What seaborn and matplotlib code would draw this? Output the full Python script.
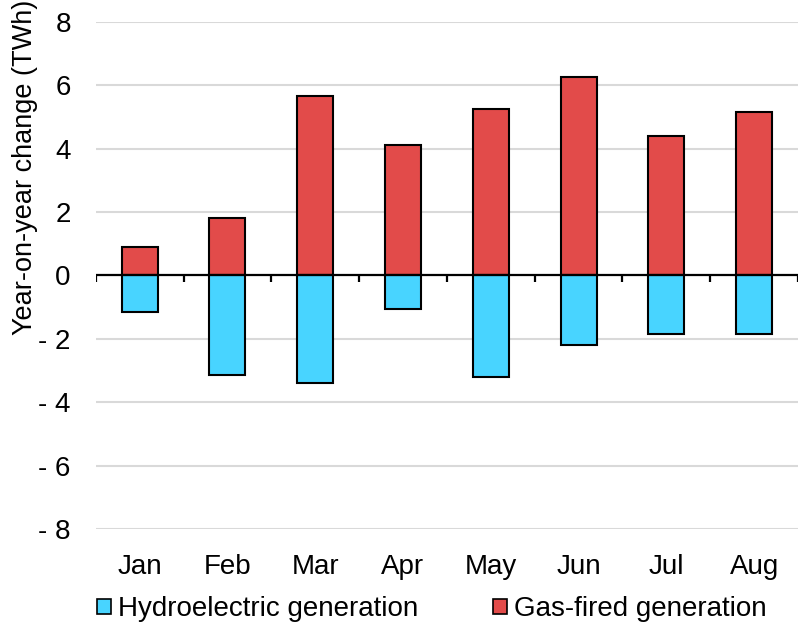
import matplotlib
matplotlib.use("Agg")
import matplotlib.pyplot as plt
from matplotlib.patches import Patch
import numpy as np
import pandas as pd
import seaborn as sns

months = ["Jan", "Feb", "Mar", "Apr", "May", "Jun", "Jul", "Aug"]
hydro = [-1.15, -3.15, -3.4, -1.05, -3.2, -2.2, -1.85, -1.85]
gas = [0.9, 1.8, 5.65, 4.1, 5.25, 6.25, 4.4, 5.15]
yticks = [-8, -6, -4, -2, 0, 2, 4, 6, 8]

HYDRO_COLOR = "#48d4ff"
GAS_COLOR = "#e24b4a"

sns.set_style("white")
plt.rcParams["font.family"] = ["Liberation Sans", "DejaVu Sans"]
plt.rcParams["text.color"] = "black"
plt.rcParams["axes.labelcolor"] = "black"
plt.rcParams["xtick.color"] = "black"
plt.rcParams["ytick.color"] = "black"

df = pd.DataFrame({"month": months, "hydro": hydro, "gas": gas})

fig = plt.figure(figsize=(7.98, 6.23), dpi=100)
ax = fig.add_axes([0.12, 0.151, 0.88, 0.814])

sns.barplot(data=df, x="month", y="gas", color=GAS_COLOR, width=0.41,
            edgecolor="black", linewidth=1.5, saturation=1, ax=ax, zorder=3)
sns.barplot(data=df, x="month", y="hydro", color=HYDRO_COLOR, width=0.41,
            edgecolor="black", linewidth=1.5, saturation=1, ax=ax, zorder=3)

ax.set_xlim(-0.5, len(months) - 0.5)
ax.set_ylim(-8, 8)
ax.set_yticks(yticks)
ax.set_yticklabels([f"- {abs(v)}" if v < 0 else str(v) for v in yticks])
ax.grid(axis="y", color="#d9d9d9", linewidth=1.5, zorder=0)
ax.grid(axis="x", visible=False)
for s in ax.spines.values():
    s.set_visible(False)

# zero line with category separator ticks
ax.axhline(0, color="black", linewidth=1.6, zorder=4)
ax.vlines(np.arange(-0.5, len(months)), -0.22, 0, color="black",
          linewidth=1.6, zorder=4)

ax.tick_params(axis="both", length=0, labelsize=20)
ax.tick_params(axis="x", pad=18)
ax.tick_params(axis="y", pad=18)
ax.set_xlabel("")
ax.set_ylabel("Year-on-year change (TWh)", fontsize=19.5, labelpad=0)
ax.yaxis.set_label_coords(-0.082, 0.712)

handles = [Patch(facecolor=HYDRO_COLOR, edgecolor="black", linewidth=1.2,
                 label="Hydroelectric generation"),
           Patch(facecolor=GAS_COLOR, edgecolor="black", linewidth=1.2,
                 label="Gas-fired generation")]
fig.legend(handles=handles, loc="center", bbox_to_anchor=(0.541, 0.022),
           ncol=2, frameon=False, fontsize=20, handlelength=0.5,
           handleheight=0.5, handletextpad=0.25, columnspacing=2.7,
           borderpad=0, borderaxespad=0)

fig.savefig("out.png", dpi=100)
